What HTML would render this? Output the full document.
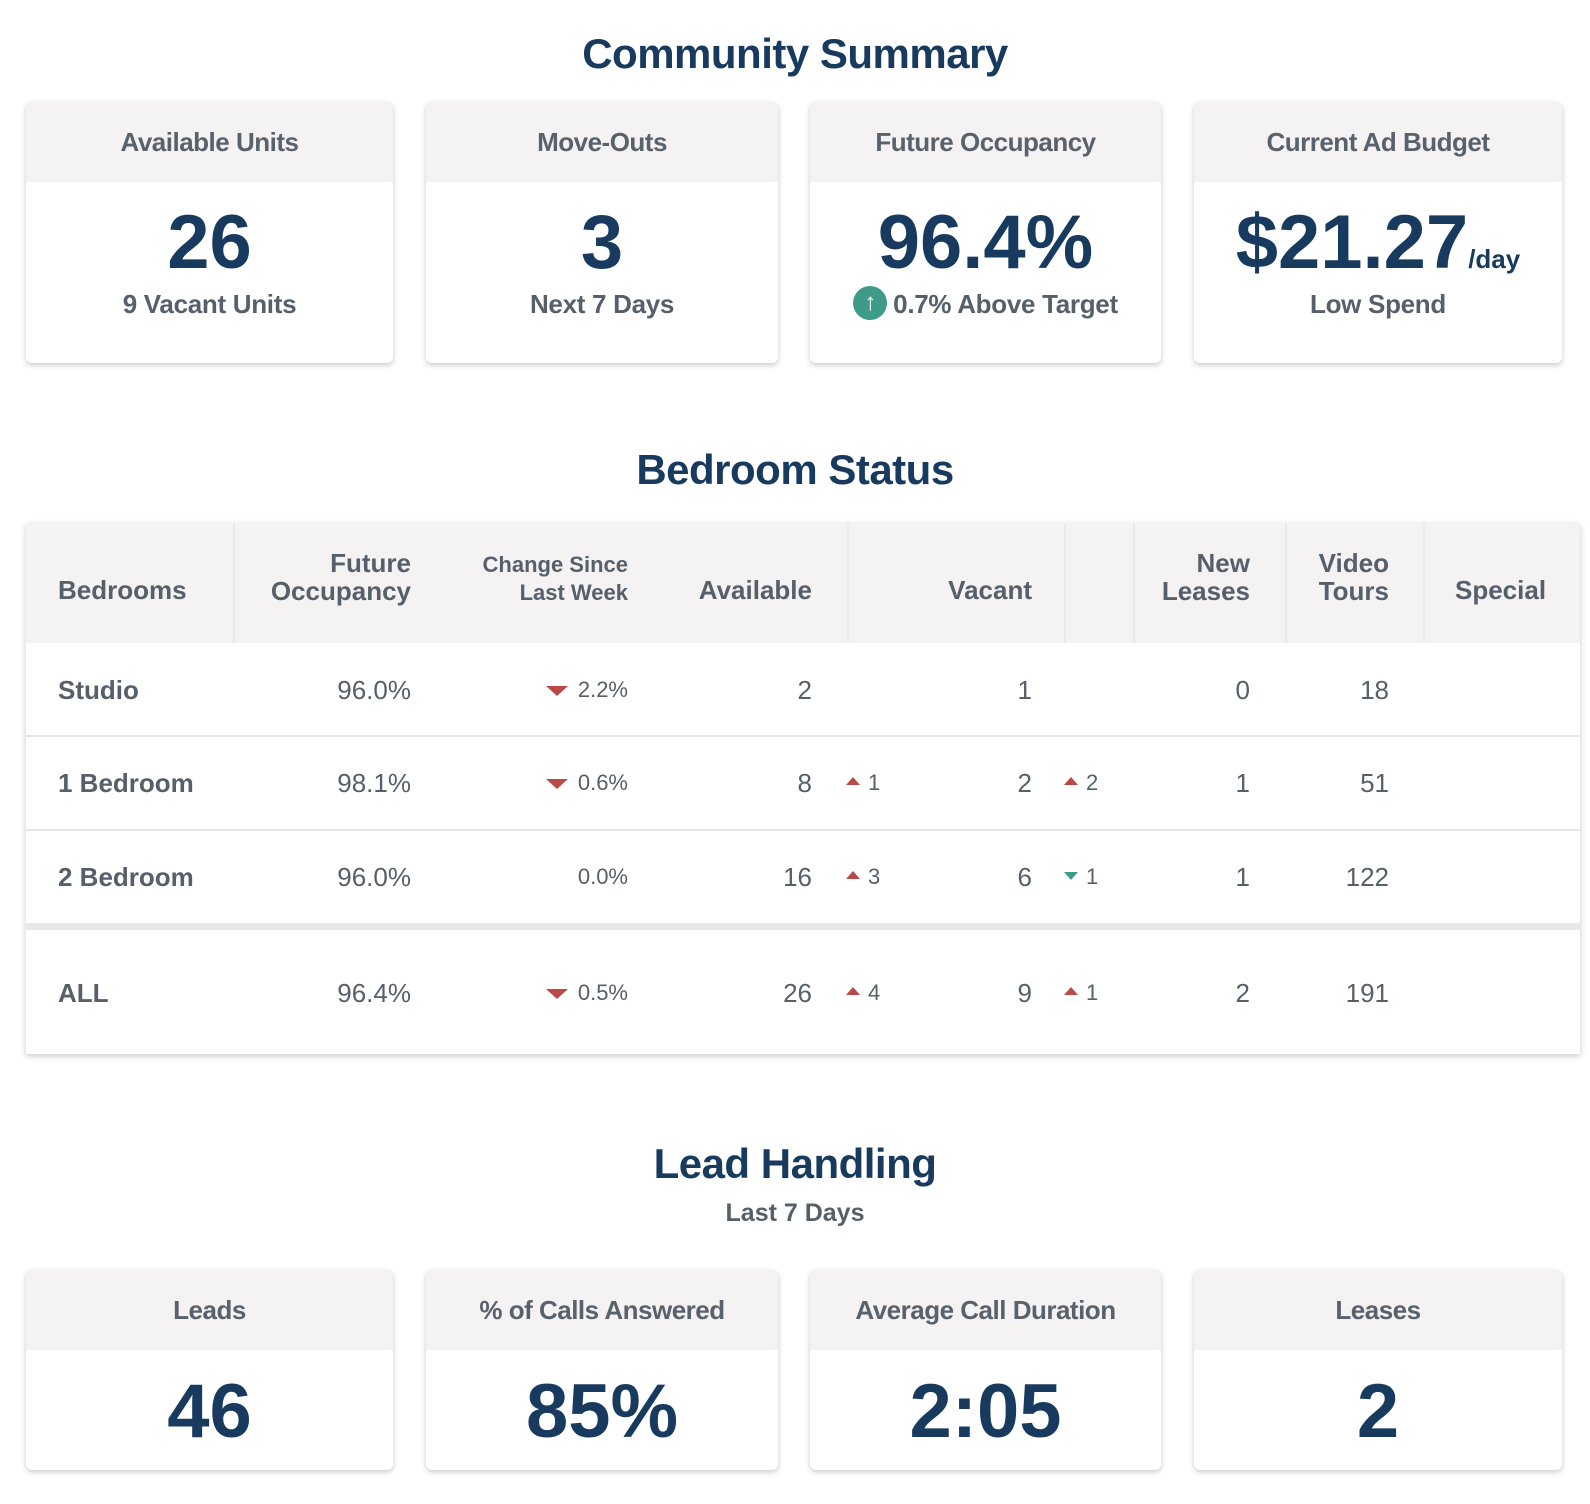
<!DOCTYPE html>
<html><head><meta charset="utf-8">
<style>
*{box-sizing:border-box;margin:0;padding:0}
body{width:1590px;height:1504px;background:#fff;font-family:"Liberation Sans",sans-serif;position:relative;overflow:hidden;color:#565f6a}
.title{position:absolute;left:0;width:1590px;text-align:center;color:#173a5e;font-weight:bold;font-size:42px;letter-spacing:-0.5px}
.card{position:absolute;background:#fff;border-radius:6px;box-shadow:0 2px 6px rgba(0,0,0,0.22);overflow:hidden}
.card .hd{height:80px;background:#f4f2f3;text-align:center;line-height:80px;font-size:26px;color:#59616c;font-weight:bold;letter-spacing:-0.5px}
.card .big{position:absolute;left:0;right:0;text-align:center;color:#173a5e;font-weight:bold;font-size:76px;line-height:1}
.card .sub{position:absolute;left:0;right:0;text-align:center;font-size:26px;color:#565f6a;font-weight:bold;letter-spacing:-0.3px}
.tbl{position:absolute;left:26px;top:523px;width:1554px;height:531px;background:#fff;box-shadow:0 2px 6px rgba(0,0,0,0.22)}
.th{position:absolute;top:0;height:120px;background:#f4f2f3}
.cell{position:absolute;font-size:26px;line-height:30px;white-space:nowrap}
.hcell{position:absolute;font-size:26px;line-height:28px;color:#565f6a;font-weight:bold;white-space:nowrap}
.tri-d{display:inline-block;width:0;height:0;border-left:11px solid transparent;border-right:11px solid transparent;border-top:10px solid #b94a48;margin-right:10px;vertical-align:middle}
.tri-u{display:inline-block;width:0;height:0;border-left:7px solid transparent;border-right:7px solid transparent;border-bottom:8px solid #b94a48;margin-right:8px;vertical-align:middle;position:relative;top:-3px}
.tri-g{display:inline-block;width:0;height:0;border-left:7px solid transparent;border-right:7px solid transparent;border-top:8px solid #3e9b8a;margin-right:8px;vertical-align:middle;position:relative;top:-2px}
</style></head><body>

<div class="title" style="top:30px">Community Summary</div>

<div class="card" style="left:26px;top:102px;width:367px;height:261px">
 <div class="hd">Available Units</div>
 <div class="big" style="top:103px">26</div>
 <div class="sub" style="top:187px">9 Vacant Units</div>
</div>
<div class="card" style="left:426px;top:102px;width:352px;height:261px">
 <div class="hd">Move-Outs</div>
 <div class="big" style="top:103px">3</div>
 <div class="sub" style="top:187px">Next 7 Days</div>
</div>
<div class="card" style="left:810px;top:102px;width:351px;height:261px">
 <div class="hd">Future Occupancy</div>
 <div class="big" style="top:103px">96.4%</div>
 <div class="sub" style="top:187px"><span style="display:inline-block;width:34px;height:34px;border-radius:50%;background:#3e9b8a;color:#fff;font-size:24px;line-height:34px;vertical-align:middle;margin-right:6px;position:relative;top:-3px">↑</span>0.7% Above Target</div>
</div>
<div class="card" style="left:1194px;top:102px;width:368px;height:261px">
 <div class="hd">Current Ad Budget</div>
 <div class="big" style="top:103px">$21.27<span style="font-size:26px;font-weight:bold">/day</span></div>
 <div class="sub" style="top:187px">Low Spend</div>
</div>

<div class="title" style="top:446px">Bedroom Status</div>

<div class="tbl" id="tbl">
 <div class="th" style="left:0;width:1554px"></div>
</div>

<div class="title" style="top:1140px">Lead Handling</div>
<div style="position:absolute;left:0;width:1590px;top:1199px;text-align:center;font-size:25px;font-weight:bold;color:#565f6a">Last 7 Days</div>

<div class="card" style="left:26px;top:1270px;width:367px;height:200px">
 <div class="hd">Leads</div>
 <div class="big" style="top:104px">46</div>
</div>
<div class="card" style="left:426px;top:1270px;width:352px;height:200px">
 <div class="hd">% of Calls Answered</div>
 <div class="big" style="top:104px">85%</div>
</div>
<div class="card" style="left:810px;top:1270px;width:351px;height:200px">
 <div class="hd">Average Call Duration</div>
 <div class="big" style="top:104px">2:05</div>
</div>
<div class="card" style="left:1194px;top:1270px;width:368px;height:200px">
 <div class="hd">Leases</div>
 <div class="big" style="top:104px">2</div>
</div>

<script>
const rowLabels=["Studio","1 Bedroom","2 Bedroom","ALL"];
const occupancy=["96.0%","98.1%","96.0%","96.4%"];
const changeVals=["2.2%","0.6%","0.0%","0.5%"];
const changeDir=["down","down","none","down"];
const available=[2,8,16,26];
const availDelta=[null,1,3,4];
const availDir=["","up","up","up"];
const vacant=[1,2,6,9];
const vacDelta=[null,2,1,1];
const vacDir=["","up","down","up"];
const newLeases=[0,1,1,2];
const videoTours=[18,51,122,191];

const t=document.getElementById('tbl');
function add(html,cls,style,name){
  const d=document.createElement('div');
  d.className=cls;d.style.cssText=style;d.innerHTML=html;
  
  
  t.appendChild(d);return d;
}
[207,821,1038,1107,1259,1397].forEach(x=>{
  const s=document.createElement('div');
  s.style.cssText='position:absolute;top:0;height:120px;width:2px;background:#ebe9ea;left:'+x+'px';
  
  
  t.appendChild(s);
});
add('Bedrooms','hcell','left:32px;top:53px','header-bedrooms');
add('Future<br>Occupancy','hcell','right:'+(1554-385)+'px;top:26px;text-align:right','header-future-occupancy');
add('Change Since<br>Last Week','hcell','right:'+(1554-602)+'px;top:28px;text-align:right;font-size:22px','header-change');
add('Available','hcell','right:'+(1554-786)+'px;top:53px','header-available');
add('Vacant','hcell','right:'+(1554-1006)+'px;top:53px','header-vacant');
add('New<br>Leases','hcell','right:'+(1554-1224)+'px;top:26px;text-align:right','header-new-leases');
add('Video<br>Tours','hcell','right:'+(1554-1363)+'px;top:26px;text-align:right','header-video-tours');
add('Special','hcell','left:1429px;top:53px','header-special');

const rowTops=[120,213,307,408];
const rowH=[93,94,94,123];
rowLabels.forEach((lab,i)=>{
  const top=rowTops[i], cy=top+rowH[i]/2-15;
  if(i<2){const l=document.createElement('div');l.style.cssText='position:absolute;left:0;width:1554px;height:2px;background:#e6e6e6;top:'+(top+rowH[i]-1)+'px';
    
    
    t.appendChild(l);}
  if(i==2){const l=document.createElement('div');l.style.cssText='position:absolute;left:0;width:1554px;height:7px;background:#e8e8e8;top:'+(top+rowH[i]-1)+'px';
    
    
    t.appendChild(l);}
  add(lab,'cell','left:32px;top:'+cy+'px;font-weight:bold','row-label');
  add(occupancy[i],'cell','right:'+(1554-385)+'px;top:'+cy+'px','row-occupancy');
  const tri=changeDir[i]=='down'?'<span class="tri-d"></span>':'';
  add(tri+changeVals[i],'cell','right:'+(1554-602)+'px;top:'+cy+'px;font-size:22px','row-change');
  add(String(available[i]),'cell','right:'+(1554-786)+'px;top:'+cy+'px','row-available');
  if(availDelta[i]!==null) add('<span class="tri-'+(availDir[i]=='up'?'u':'g')+'"></span>'+availDelta[i],'cell','left:820px;top:'+cy+'px;font-size:22px','row-available-delta');
  add(String(vacant[i]),'cell','right:'+(1554-1006)+'px;top:'+cy+'px','row-vacant');
  if(vacDelta[i]!==null) add('<span class="tri-'+(vacDir[i]=='up'?'u':'g')+'"></span>'+vacDelta[i],'cell','left:1038px;top:'+cy+'px;font-size:22px','row-vacant-delta');
  add(String(newLeases[i]),'cell','right:'+(1554-1224)+'px;top:'+cy+'px','row-new-leases');
  add(String(videoTours[i]),'cell','right:'+(1554-1363)+'px;top:'+cy+'px','row-video-tours');
});
</script>
</body></html>
